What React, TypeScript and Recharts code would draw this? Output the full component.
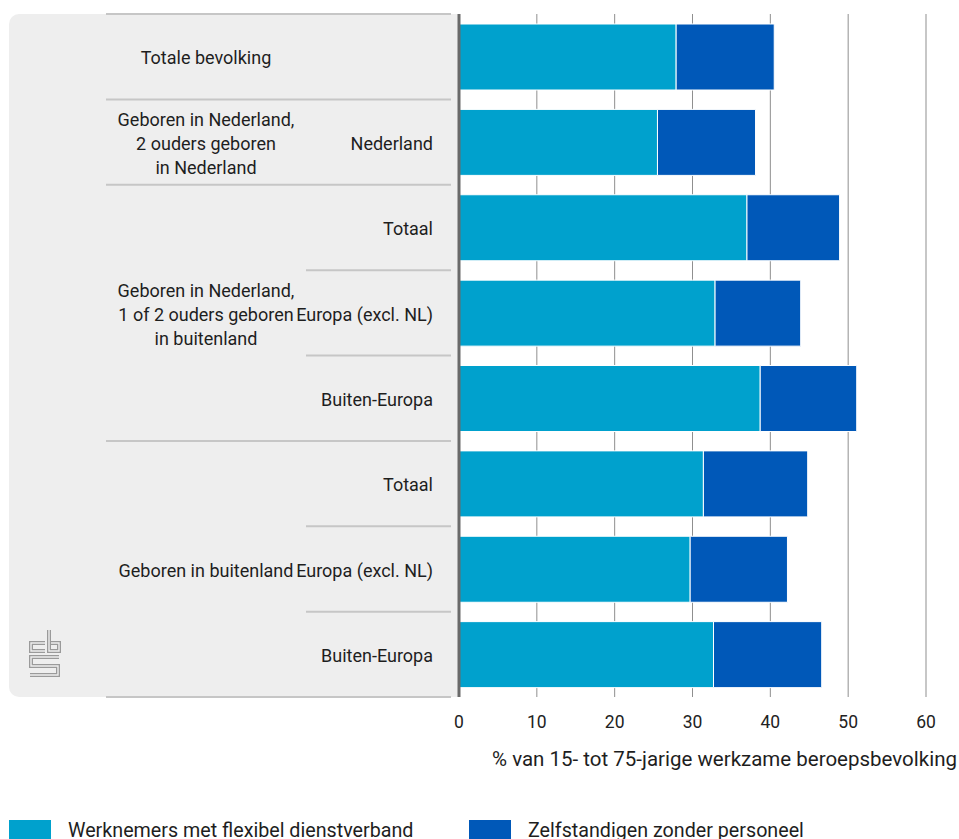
import React from 'react';
import { BarChart, Bar, XAxis, YAxis, CartesianGrid } from 'recharts';

// rows top to bottom
const rowKeys = ['r0', 'r1', 'r2', 'r3', 'r4', 'r5', 'r6', 'r7'];
const subLabels = ['', 'Nederland', 'Totaal', 'Europa (excl. NL)', 'Buiten-Europa', 'Totaal', 'Europa (excl. NL)', 'Buiten-Europa'];
const flexibel = [27.9, 25.5, 37.0, 32.9, 38.7, 31.4, 29.7, 32.7];
const zzp = [12.6, 12.6, 11.9, 11.0, 12.4, 13.4, 12.5, 13.9];

// group label, first row, last row
const groups = [
  { lines: ['Totale bevolking'], first: 0, last: 0 },
  { lines: ['Geboren in Nederland,', '2 ouders geboren', 'in Nederland'], first: 1, last: 1 },
  { lines: ['Geboren in Nederland,', '1 of 2 ouders geboren', 'in buitenland'], first: 2, last: 4 },
  { lines: ['Geboren in buitenland'], first: 5, last: 7 },
];

const xTicks = [0, 10, 20, 30, 40, 50, 60];
const seriesNames = ['Werknemers met flexibel dienstverband', 'Zelfstandigen zonder personeel'];
const colors = ['#00a1cd', '#0058b8'];

const data = rowKeys.map((k, i) => ({ key: k, flex: flexibel[i], zzp: zzp[i] }));

const FONT = 'Roboto, "Noto Sans", sans-serif';
const TOP = 14;
const PLOT_H = 683;
const BAND = PLOT_H / rowKeys.length;

function RowTick(props: any) {
  const { x, y, payload } = props;
  const i = payload.index;
  const top = y - BAND / 2;
  const group = groups.find((g) => i >= g.first && i <= g.last)!;
  const isFirst = group.first === i;
  const mid = Math.floor((group.first + group.last) / 2);
  const out: React.ReactNode[] = [];
  out.push(
    <line key="sep" x1={isFirst ? 106 : 306} x2={x} y1={top} y2={top} stroke="#c6c6c6" strokeWidth={2} />
  );
  if (i === rowKeys.length - 1) {
    out.push(<line key="bot" x1={106} x2={x} y1={top + BAND} y2={top + BAND} stroke="#c6c6c6" strokeWidth={2} />);
  }
  if (subLabels[i]) {
    out.push(
      <text key="sub" x={433} y={y + 1.5} dy="0.35em" textAnchor="end" fontSize={18} fill="#1e1e1e" fontFamily={FONT}>
        {subLabels[i]}
      </text>
    );
  }
  if (i === mid) {
    const n = group.lines.length;
    out.push(
      <text key="grp" x={206} textAnchor="middle" fontSize={18} fill="#1e1e1e" fontFamily={FONT}>
        {group.lines.map((l, j) => (
          <tspan key={j} x={206} y={y + 1.5 + (j - (n - 1) / 2) * 24} dy="0.35em">
            {l}
          </tspan>
        ))}
      </text>
    );
  }
  return <g>{out}</g>;
}

function Logo() {
  const d = ['M45,643 H31 V651 H45', 'M49,630 V651 H59 V643 H51', 'M59,657 H31 V666 H58 V675 H30'];
  return (
    <svg width={959} height={839} style={{ position: 'absolute', left: 0, top: 0, pointerEvents: 'none' }}>
      {d.map((p, i) => (
        <path key={'a' + i} d={p} fill="none" stroke="#9a9a9a" strokeWidth={4} />
      ))}
      {d.map((p, i) => (
        <path key={'b' + i} d={p} fill="none" stroke="#eeeeee" strokeWidth={1.4} />
      ))}
    </svg>
  );
}

export default function App() {
  return (
    <div style={{ position: 'absolute', left: 0, top: 0, width: 959, height: 839, background: '#fff', overflow: 'hidden', fontFamily: FONT }}>
      <div
        style={{
          position: 'absolute',
          left: 9,
          top: TOP,
          width: 450,
          height: PLOT_H,
          background: '#eeeeee',
          borderRadius: '10px 0 0 10px',
        }}
      />
      <Logo />
      <div style={{ position: 'absolute', left: 0, top: 0 }}>
        <BarChart
          width={959}
          height={790}
          data={data}
          layout="vertical"
          margin={{ top: TOP, right: 33, bottom: 0, left: 0 }}
          barSize={66}
        >
          <CartesianGrid horizontal={false} vertical stroke="#8f8f8f" strokeWidth={1} />
          <XAxis
            type="number"
            domain={[0, 60]}
            ticks={xTicks}
            axisLine={false}
            tickLine={false}
            tickMargin={13}
            height={93}
            tick={{ fontSize: 17.5, fill: '#222', fontFamily: FONT }}
            label={() => (
              <text x={957} y={766} textAnchor="end" fontSize={20.5} fill="#1e1e1e" fontFamily={FONT}>
                % van 15- tot 75-jarige werkzame beroepsbevolking
              </text>
            )}
          />
          <YAxis
            type="category"
            dataKey="key"
            width={459}
            axisLine={{ stroke: '#6a6a6a', strokeWidth: 3 }}
            tickLine={false}
            tick={<RowTick />}
            interval={0}
          />
          <Bar dataKey="flex" stackId="a" fill={colors[0]} stroke="#fff" strokeWidth={1} isAnimationActive={false} />
          <Bar dataKey="zzp" stackId="a" fill={colors[1]} stroke="#fff" strokeWidth={1} isAnimationActive={false} />
        </BarChart>
      </div>
      {seriesNames.map((name, i) => (
        <div key={name} style={{ position: 'absolute', left: i === 0 ? 9 : 469, top: 820, display: 'flex', alignItems: 'flex-start' }}>
          <div style={{ width: 42, height: 26, background: colors[i] }} />
          <span style={{ marginLeft: 17, fontSize: 19.7, color: '#1e1e1e', lineHeight: '22px', marginTop: 0 }}>{name}</span>
        </div>
      ))}
    </div>
  );
}
